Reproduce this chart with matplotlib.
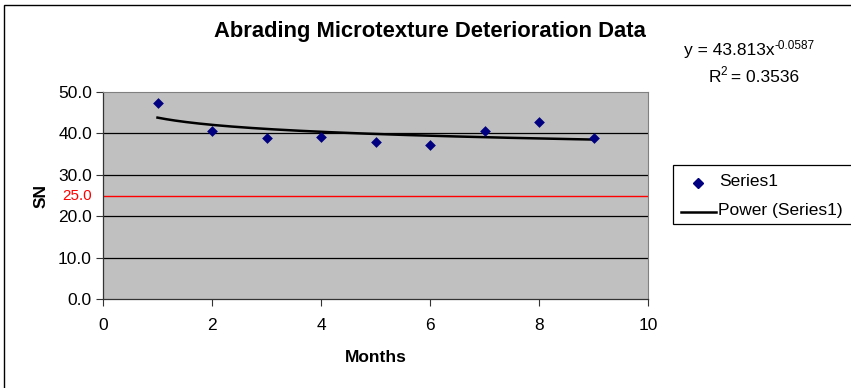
import numpy as np
import matplotlib
matplotlib.use("Agg")
import matplotlib.pyplot as plt
from matplotlib.patches import Rectangle
from matplotlib.lines import Line2D

plt.rcParams["font.family"] = ["Liberation Sans", "DejaVu Sans"]

# Observations
months = [1, 2, 3, 4, 5, 6, 7, 8, 9]
sn = [47.4, 40.6, 39.0, 39.2, 37.9, 37.3, 40.7, 42.7, 39.0]

# Power trendline coefficients y = a * x^b
coef_a = 43.813
coef_b = -0.0587
r_squared = 0.3536

threshold = 25.0

W, H = 851, 388
fig = plt.figure(figsize=(W / 100, H / 100), dpi=100)


def px(x, y):
    """Pixel position (from top-left) to figure fraction."""
    return x / W, 1 - y / H


# outer chart border
fig.patches.append(Rectangle((4 / W, -0.05), 1.2, 1 - 5 / H + 0.05,
                             transform=fig.transFigure, fill=False,
                             edgecolor="black", linewidth=1.0))

ax = fig.add_axes([103 / W, 1 - 299 / H, (648 - 103) / W, (299 - 92) / H])
ax.set_facecolor("#C0C0C0")
ax.set_xlim(0, 10)
ax.set_ylim(0, 50)
ax.set_xticks(range(0, 11, 2))
ax.set_yticks(np.arange(0, 51, 10))
ax.set_yticklabels([f"{v:.1f}" for v in np.arange(0, 51, 10)])
ax.tick_params(direction="out", length=5, width=0.8, colors="#333333",
               labelcolor="black", labelsize=12.5)
ax.tick_params(axis="y", pad=3)
ax.tick_params(axis="x", pad=9)
for y in [10, 20, 30, 40]:
    ax.axhline(y, color="black", linewidth=0.9, zorder=1)
for s in ["left", "bottom"]:
    ax.spines[s].set_color("#333333")
    ax.spines[s].set_linewidth(0.9)
for s in ["top", "right"]:
    ax.spines[s].set_color("#808080")
    ax.spines[s].set_linewidth(0.8)

# threshold line and its label
ax.axhline(threshold, color="#FF0000", linewidth=1.0, zorder=2)
ax.text(-11 / 545, threshold, f"{threshold:.1f}", color="#FF0000",
        fontsize=11, ha="right", va="center",
        transform=ax.get_yaxis_transform())

# trendline
xt = np.linspace(min(months), max(months), 200)
ax.plot(xt, coef_a * xt ** coef_b, color="black", linewidth=1.8, zorder=3)

# data points
ax.scatter(months, sn, marker="D", s=30, color="#000080", zorder=4,
           linewidths=0)

ax.set_xlabel("Months", fontsize=12.5, fontweight="bold", labelpad=12)
ax.set_ylabel("SN", fontsize=12.5, fontweight="bold", labelpad=7)

fig.text(*px(430, 32), "Abrading Microtexture Deterioration Data",
         ha="center", va="center", fontsize=15.8, fontweight="bold")

# trendline equation with superscripts
eq = fig.text(*px(684, 51), f"y = {coef_a}x", ha="left", va="center",
              fontsize=12.5)
r2 = fig.text(*px(709, 77), "R", ha="left", va="center", fontsize=12.5)
fig.canvas.draw()
rend = fig.canvas.get_renderer()
eq_end = eq.get_window_extent(rend).x1
r_end = r2.get_window_extent(rend).x1
fig.text(eq_end / W, px(0, 46)[1], f"{coef_b}", ha="left",
         va="center", fontsize=8.5)
sup2 = fig.text((r_end - 1.5) / W, px(0, 72)[1], "2", ha="left",
                va="center", fontsize=8.5)
fig.canvas.draw()
s_end = sup2.get_window_extent(rend).x1
fig.text((s_end - 1) / W, px(0, 77)[1], f" = {r_squared}", ha="left",
         va="center", fontsize=12.5)

# legend
fig.patches.append(Rectangle(px(673, 224), 0.5, (224 - 165) / H,
                             transform=fig.transFigure, fill=True,
                             facecolor="white", edgecolor="black",
                             linewidth=0.9))
fig.add_artist(Line2D([698 / W], [px(0, 183)[1]], marker="D", markersize=5,
                      color="#000080", linestyle="none",
                      transform=fig.transFigure))
fig.add_artist(Line2D([681 / W, 716 / W], [px(0, 212)[1]] * 2,
                      color="black", linewidth=1.8,
                      transform=fig.transFigure))
fig.text(*px(719, 182), "Series1", ha="left", va="center", fontsize=12.5)
fig.text(*px(718, 211), "Power (Series1)", ha="left", va="center",
         fontsize=12.5)

fig.savefig("out.png", dpi=100)
